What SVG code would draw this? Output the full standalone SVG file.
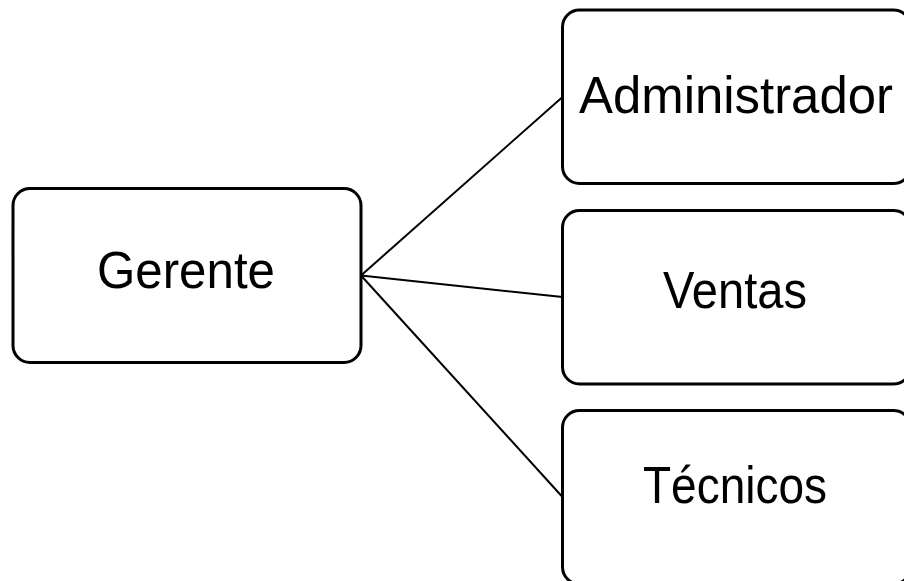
<svg xmlns="http://www.w3.org/2000/svg" width="904" height="581" viewBox="0 0 904 581">
<style>
.box{fill:#fff;stroke:#000;stroke-width:3}
.lbl{font-family:"Liberation Sans",Arial,sans-serif;font-size:52px;fill:#000;text-anchor:middle}
.conn line{stroke:#000;stroke-width:2}
</style>
<rect width="904" height="581" fill="#fff"/>
<g id="connectors" class="conn">
<line x1="361" y1="275.5" x2="562.5" y2="97"/>
<line x1="361" y1="275.5" x2="562.5" y2="297"/>
<line x1="361" y1="275.5" x2="562.5" y2="497"/>
</g>
<g id="gerente">
<rect class="box" x="13" y="188.5" width="348" height="174" rx="17"/>
<text class="lbl" x="186" y="288" textLength="178" lengthAdjust="spacingAndGlyphs">Gerente</text>
</g>
<g id="administrador">
<rect class="box" x="562.5" y="10" width="348" height="173.5" rx="17"/>
<text class="lbl" x="736" y="113" textLength="314" lengthAdjust="spacingAndGlyphs">Administrador</text>
</g>
<g id="ventas">
<rect class="box" x="562.5" y="210.5" width="348" height="173.5" rx="17"/>
<text class="lbl" x="735" y="308" textLength="144" lengthAdjust="spacingAndGlyphs">Ventas</text>
</g>
<g id="tecnicos">
<rect class="box" x="562.5" y="410.5" width="348" height="173.5" rx="17"/>
<text class="lbl" x="735" y="503" textLength="184" lengthAdjust="spacingAndGlyphs">Técnicos</text>
</g>
</svg>
